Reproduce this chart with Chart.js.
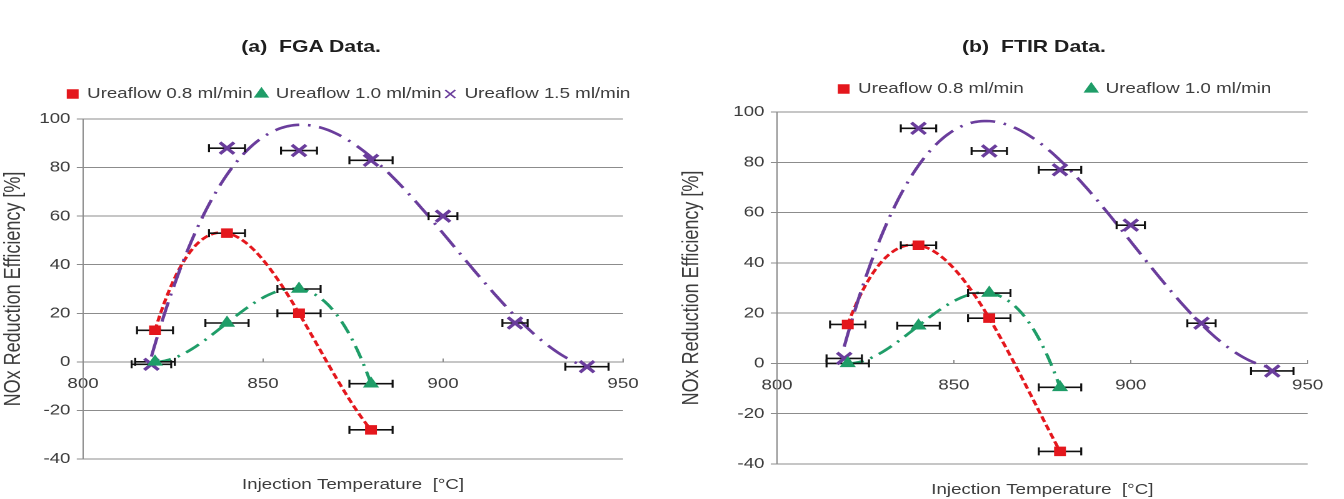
<!DOCTYPE html>
<html>
<head>
<meta charset="utf-8">
<script src="https://cdn.jsdelivr.net/npm/chart.js@4/dist/chart.umd.min.js"></script>
<style>
  body { margin: 0; width: 1344px; height: 499px; background: #fff; overflow: hidden; position: relative; }
  .panel { position: absolute; top: 0; width: 538px; height: 499px; transform: scaleX(1.25); transform-origin: 0 0; }
  .box { position: absolute; left: 0; top: 0; width: 538px; height: 499px; }
  .cap { position: absolute; top: 37px; font: bold 17px 'Liberation Sans', Arial, sans-serif; color: #1e1e1e; white-space: pre; }
</style>
</head>
<body>
<div class="panel" style="left:0">
  <div class="cap" style="left:193px">(a)  FGA Data.</div>
  <div class="box"><canvas id="fgaChart"></canvas></div>
</div>
<div class="panel" style="left:672px">
  <div class="cap" style="left:232px">(b)  FTIR Data.</div>
  <div class="box"><canvas id="ftirChart"></canvas></div>
</div>
<script>
// injection temperatures [°C]
const tempsShort = [820, 840, 860, 880];
const tempsLong = [819, 840, 860, 880, 900, 920, 940];
const seriesLabels = ['Ureaflow 0.8 ml/min', 'Ureaflow 1.0 ml/min', 'Ureaflow 1.5 ml/min'];
const xTicks = [800, 850, 900, 950];
const yTicks = [-40, -20, 0, 20, 40, 60, 80, 100];

// (a) FGA data, NOx reduction [%] and temperature error (+/- °C)
const fgaFlow08 = [13, 53, 20, -28];
const fgaFlow10 = [0, 16, 30, -9];
const fgaFlow15 = [-1, 88, 87, 83, 60, 16, -2];
const fgaErr08 = [5, 5, 6, 6];
const fgaErr10 = [5.5, 6, 6, 6];
const fgaErr15 = [5.5, 5, 5, 6, 4, 3.5, 6];

// (b) FTIR data
const ftirFlow08 = [15.5, 47, 18, -35];
const ftirFlow10 = [0, 15, 28, -9.5];
const ftirFlow15 = [2, 93.5, 84.5, 77, 55, 16, -3];
const ftirErr08 = [5, 5, 6, 6];
const ftirErr10 = [6, 6, 6, 6];
const ftirErr15 = [5, 5, 5, 6, 4, 4, 6];

const RED = '#e4171d';
const GREEN = '#1f9d68';
const PURPLE = '#6a3d9c';
const TEXT = '#3c3c3c';
const GRID = '#8c8c8c';
const FONT = "'Liberation Sans', Arial, sans-serif";

// least squares polynomial, like an excel trendline
function polyfit(xs, ys, order) {
  const mx = xs.reduce((a, b) => a + b, 0) / xs.length;
  const n = order + 1;
  const A = Array.from({ length: n }, () => new Array(n + 1).fill(0));
  xs.forEach((x, k) => {
    const t = (x - mx) / 20;
    for (let i = 0; i < n; i++) {
      for (let j = 0; j < n; j++) A[i][j] += Math.pow(t, i + j);
      A[i][n] += Math.pow(t, i) * ys[k];
    }
  });
  for (let i = 0; i < n; i++) {
    let p = i;
    for (let r = i + 1; r < n; r++) if (Math.abs(A[r][i]) > Math.abs(A[p][i])) p = r;
    [A[i], A[p]] = [A[p], A[i]];
    for (let r = 0; r < n; r++) {
      if (r === i) continue;
      const f = A[r][i] / A[i][i];
      for (let c = i; c <= n; c++) A[r][c] -= f * A[i][c];
    }
  }
  const coef = A.map((row, i) => row[n] / row[i]);
  return x => {
    const t = (x - mx) / 20;
    return coef.reduce((s, c, i) => s + c * Math.pow(t, i), 0);
  };
}

const trendPlugin = {
  id: 'trendLines',
  beforeDatasetsDraw(chart) {
    const { ctx, chartArea, scales: { x, y } } = chart;
    ctx.save();
    ctx.beginPath();
    ctx.rect(chartArea.left, chartArea.top, chartArea.width, chartArea.height);
    ctx.clip();
    chart.data.datasets.forEach(ds => {
      if (!ds.trendOrder) return;
      const xs = ds.data.map(p => p.x);
      const f = polyfit(xs, ds.data.map(p => p.y), ds.trendOrder);
      const x0 = Math.min(...xs), x1 = Math.max(...xs);
      ctx.beginPath();
      for (let i = 0; i <= 150; i++) {
        const v = x0 + (x1 - x0) * i / 150;
        const px = x.getPixelForValue(v), py = y.getPixelForValue(f(v));
        if (i) ctx.lineTo(px, py); else ctx.moveTo(px, py);
      }
      ctx.strokeStyle = ds.trendColor;
      ctx.lineWidth = 2.6;
      ctx.setLineDash(ds.trendDash);
      ctx.stroke();
    });
    ctx.restore();
  }
};

const errorBarPlugin = {
  id: 'xErrorBars',
  beforeDatasetsDraw(chart) {
    const { ctx, scales: { x, y } } = chart;
    ctx.save();
    ctx.strokeStyle = '#111';
    ctx.lineWidth = 1.6;
    ctx.setLineDash([]);
    chart.data.datasets.forEach(ds => {
      if (!ds.xErr) return;
      ds.data.forEach((p, i) => {
        const py = y.getPixelForValue(p.y);
        const l = x.getPixelForValue(p.x - ds.xErr[i]);
        const r = x.getPixelForValue(p.x + ds.xErr[i]);
        ctx.beginPath();
        ctx.moveTo(l, py); ctx.lineTo(r, py);
        ctx.moveTo(l, py - 4); ctx.lineTo(l, py + 4);
        ctx.moveTo(r, py - 4); ctx.lineTo(r, py + 4);
        ctx.stroke();
      });
    });
    ctx.restore();
  }
};

// shift the legend box after layout
const nudgeLegend = {
  id: 'nudgeLegend',
  afterLayout(chart, args, opts) {
    const lg = chart.legend;
    if (!lg) return;
    lg.left += opts.dx; lg.right += opts.dx;
    lg.top += opts.dy; lg.bottom += opts.dy;
  }
};

const pts = (xs, ys) => xs.map((x, i) => ({ x, y: ys[i] }));

function makeChart(id, vals, errs, lay) {
  const datasets = [
    { label: seriesLabels[0], data: pts(tempsShort, vals[0]), xErr: errs[0], pointStyle: 'rect', pointRadius: 6,
      backgroundColor: RED, borderColor: RED, borderWidth: 1, trendOrder: 3, trendColor: RED, trendDash: [6, 3] },
    { label: seriesLabels[1], data: pts(tempsShort, vals[1]), xErr: errs[1], pointStyle: 'triangle', pointRadius: 6.5,
      backgroundColor: GREEN, borderColor: GREEN, borderWidth: 1, trendOrder: 3, trendColor: GREEN, trendDash: [13, 6, 2, 6] },
    { label: seriesLabels[2], data: pts(tempsLong, vals[2]), xErr: errs[2], pointStyle: 'crossRot', pointRadius: 8,
      backgroundColor: PURPLE, borderColor: PURPLE, borderWidth: 3, trendOrder: 3, trendColor: PURPLE, trendDash: [20, 7, 2, 7] }
  ];
  datasets.forEach(d => { d.xAxisID = 'x'; d.yAxisID = 'y'; d.showLine = false; d.pointHoverRadius = d.pointRadius; });

  return new Chart(document.getElementById(id), {
    type: 'scatter',
    data: { datasets },
    options: {
      responsive: true,
      maintainAspectRatio: false,
      animation: false,
      devicePixelRatio: 2,
      layout: { padding: lay.padding },
      plugins: {
        tooltip: { enabled: false },
        nudgeLegend: lay.nudge,
        legend: {
          position: 'top',
          labels: {
            usePointStyle: true,
            boxHeight: 8,
            boxWidth: 8,
            padding: lay.legendGap,
            color: TEXT,
            font: { family: FONT, size: 15 },
            filter: item => item.datasetIndex < lay.legendCount,
            generateLabels: chart => Chart.defaults.plugins.legend.labels.generateLabels(chart)
              .map(item => Object.assign(item, { lineWidth: 1.5 }))
          }
        }
      },
      scales: {
        x: {
          type: 'linear',
          position: { y: 0 },
          min: 800,
          max: 950,
          afterBuildTicks: s => { s.ticks = xTicks.map(v => ({ value: v })); },
          grid: { drawOnChartArea: false, tickLength: -4, color: GRID },
          border: { color: GRID },
          ticks: { color: TEXT, padding: 17, font: { family: FONT, size: 15 } }
        },
        x2: {
          type: 'linear',
          position: 'bottom',
          grid: { display: false, drawTicks: false },
          border: { display: false },
          ticks: { display: false },
          title: { display: true, text: 'Injection Temperature  [°C]', color: TEXT,
                   font: { family: FONT, size: 15 }, padding: lay.xTitlePad }
        },
        y: {
          type: 'linear',
          min: -40,
          max: 100,
          afterBuildTicks: s => { s.ticks = yTicks.map(v => ({ value: v })); },
          afterFit: s => { s.width = lay.yWidth; },
          grid: { color: GRID, tickLength: 5 },
          border: { color: GRID },
          ticks: { color: TEXT, padding: 5, font: { family: FONT, size: 15 } },
          title: { display: true, text: 'NOx Reduction Efficiency [%]', color: TEXT,
                   font: { family: FONT, size: 18 }, padding: { top: lay.yTitlePad, bottom: 0 } }
        }
      }
    },
    plugins: [trendPlugin, errorBarPlugin, nudgeLegend]
  });
}

makeChart('fgaChart', [fgaFlow08, fgaFlow10, fgaFlow15], [fgaErr08, fgaErr10, fgaErr15], {
  padding: { top: 91, right: 39.6, bottom: 0, left: 0 },
  yWidth: 66.4, yTitlePad: 0,
  xTitlePad: { top: 17, bottom: 5 },
  legendGap: 3, legendCount: 3,
  nudge: { dx: 30, dy: -7.5 }
});

makeChart('ftirChart', [ftirFlow08, ftirFlow10, ftirFlow15], [ftirErr08, ftirErr10, ftirErr15], {
  padding: { top: 37, right: 16.4, bottom: 0, left: 0 },
  yWidth: 84, yTitlePad: 5,
  xTitlePad: { top: 17, bottom: 0 },
  legendGap: 50, legendCount: 2,
  nudge: { dx: 45.6, dy: -5.5 }
});
</script>
</body>
</html>
